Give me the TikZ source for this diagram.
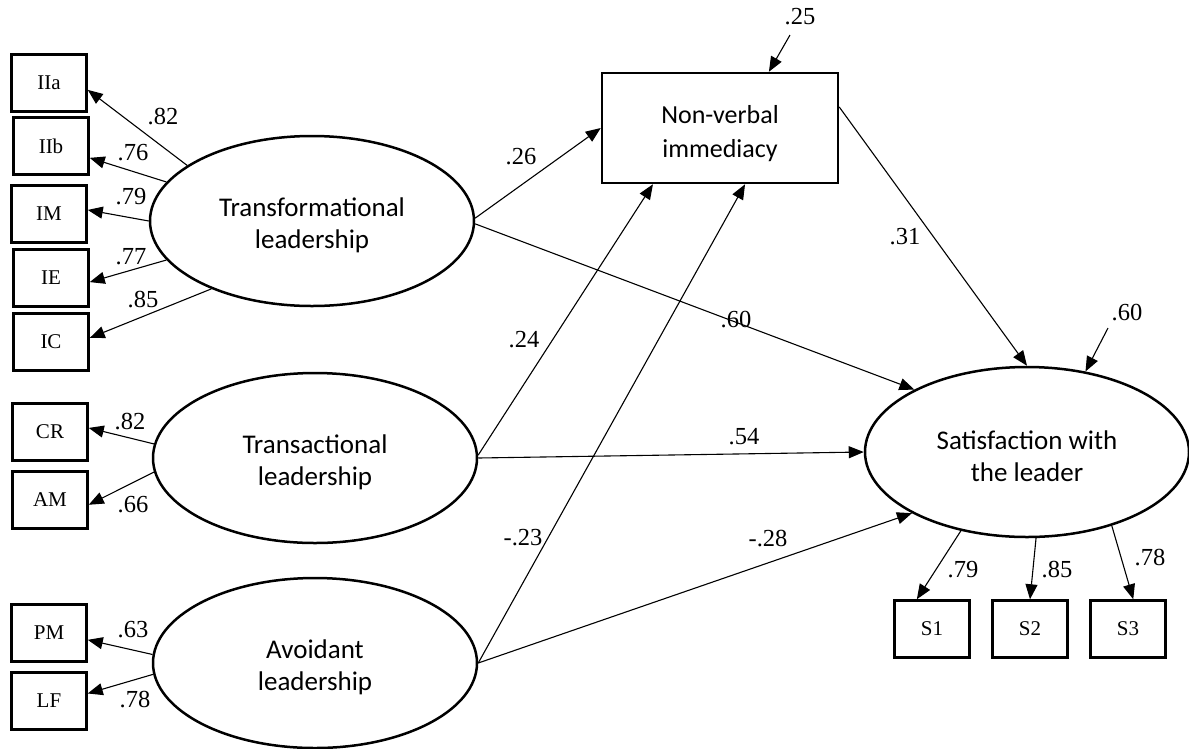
\documentclass[tikz,border=0pt]{standalone}
\usepackage{fontspec}
\setmainfont{Liberation Serif}
\newfontfamily\latentfont{Carlito}
\usepackage{tikz}
\usetikzlibrary{arrows.meta,shapes.geometric}

\tikzset{
    latent/.style={ellipse, draw, line width=2.5pt, minimum width=324pt, minimum height=170pt, inner sep=0pt, align=center, font=\latentfont\fontsize{27}{32}\selectfont},
    indicator/.style={rectangle, draw, line width=2.5pt, minimum width=75pt, minimum height=57pt, inner sep=0pt, font=\fontsize{21}{24}\selectfont},
    mediator/.style={rectangle, draw, line width=2.5pt, minimum width=236pt, minimum height=110pt, align=center, font=\latentfont\fontsize{26}{34}\selectfont},
    effect/.style={-{Triangle[length=15pt,width=12pt]}, line width=1.1pt},
    coef/.style={inner sep=0pt, font=\fontsize{24.5}{26}\selectfont}
}

\begin{document}
\begin{tikzpicture}[x=1pt,y=-1pt]
    \useasboundingbox (0,0) rectangle (1189,748);

    \node[latent] (tf) at (312,221) {\rule{0pt}{28pt}Transformational\\leadership};
    \node[latent] (ta) at (315,458) {\rule{0pt}{28pt}Transactional\\leadership};
    \node[latent] (av) at (315,663) {\rule{0pt}{28pt}Avoidant\\leadership};
    \node[mediator] (nv) at (720,128) {\rule{0pt}{30pt}Non-verbal\\immediacy};
    \node[latent] (sat) at (1027,452) {\rule{0pt}{28pt}Satisfaction with\\the leader};

    \node[indicator] (IIa) at (49,83) {IIa};
    \node[indicator] (IIb) at (51,146) {IIb};
    \node[indicator] (IM) at (49,214) {IM};
    \node[indicator] (IE) at (51,278) {IE};
    \node[indicator] (IC) at (51,342) {IC};
    \node[indicator] (CR) at (50,432) {CR};
    \node[indicator] (AM) at (50,500) {AM};
    \node[indicator] (PM) at (49,633) {PM};
    \node[indicator] (LF) at (49,701) {LF};
    \node[indicator] (S1) at (932,629) {S1};
    \node[indicator] (S2) at (1030,629) {S2};
    \node[indicator] (S3) at (1128,629) {S3};

    \coordinate (nvres) at (790,35);
    \coordinate (satres) at (1108,328);

    \draw[effect] (tf.156) -- (IIa.-10);
    \draw[effect] (tf.165) -- (IIb.-17);
    \draw[effect] (tf.180) -- (IM.6);
    \draw[effect] (tf.195) -- (IE.-6);
    \draw[effect] (tf.214) -- (IC.6);
    \draw[effect] (ta.175) -- (CR.6);
    \draw[effect] (ta.185) -- (AM.-7);
    \draw[effect] (av.177) -- (PM.-10);
    \draw[effect] (av.184) -- (LF.11);

    \draw[effect] (tf.1) -- (nv.west);
    \draw[effect] (tf.-1) -- (sat.151);
    \draw[effect] (ta.1) -- (nv.220);
    \draw[effect] (ta.0) -- (sat.west);
    \draw[effect] (av.0) -- (nv.294);
    \draw[effect] (av.0) -- (sat.208);
    \draw[effect] (nv.10) -- (sat.90);
    \draw[effect] (nvres) -- (nv.49);
    \draw[effect] (satres) -- (sat.54);
    \draw[effect] (sat.230) -- (S1.117);
    \draw[effect] (sat.276) -- (S2.north);
    \draw[effect] (sat.319) -- (S3.80);

    \node[coef] (cIIa) at (163,117) {.82};
    \node[coef] (cIIb) at (133,153) {.76};
    \node[coef] (cIM) at (131,197) {.79};
    \node[coef] (cIE) at (131,257) {.77};
    \node[coef] (cIC) at (143,300) {.85};
    \node[coef] (cCR) at (130,422) {.82};
    \node[coef] (cAM) at (133,505) {.66};
    \node[coef] (cPM) at (133,630) {.63};
    \node[coef] (cLF) at (135,700) {.78};
    \node[coef] (ctfnv) at (521,157) {.26};
    \node[coef] (ctfsat) at (736,320) {.60};
    \node[coef] (ctanv) at (524,340) {.24};
    \node[coef] (ctasat) at (744,437) {.54};
    \node[coef] (cavnv) at (523,538) {-.23};
    \node[coef] (cavsat) at (768,539) {-.28};
    \node[coef] (cnvsat) at (905,237) {.31};
    \node[coef] (cnvres) at (800,17) {.25};
    \node[coef] (csatres) at (1127,313) {.60};
    \node[coef] (cS1) at (963,570) {.79};
    \node[coef] (cS2) at (1057,570) {.85};
    \node[coef] (cS3) at (1150,558) {.78};
\end{tikzpicture}
\end{document}
